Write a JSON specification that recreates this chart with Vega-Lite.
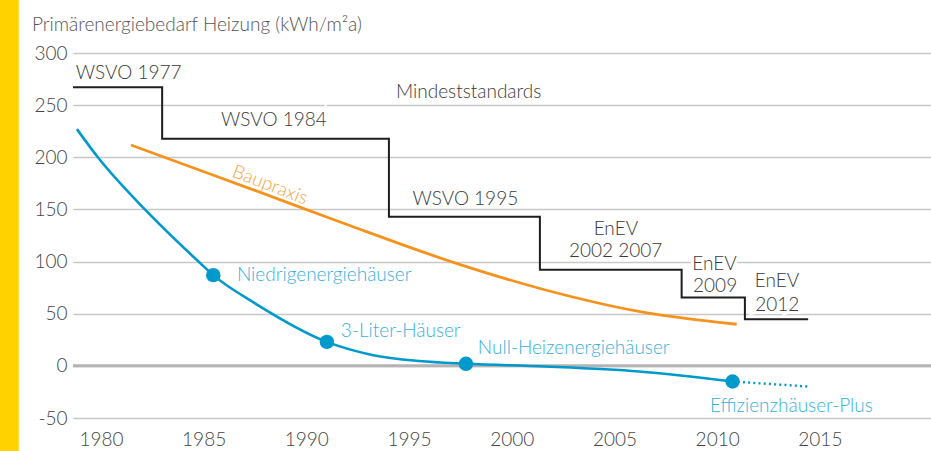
{
  "$schema": "https://vega.github.io/schema/vega-lite/v6.json",
  "width": 858,
  "height": 365,
  "autosize": {"type": "none"},
  "padding": {"left": 73, "top": 53, "right": 0, "bottom": 33},
  "background": "white",
  "title": {
    "text": "Primärenergiebedarf Heizung (kWh/m²a)",
    "anchor": "start",
    "frame": "group",
    "dx": -41,
    "offset": -50,
    "baseline": "alphabetic",
    "font": "Lato",
    "fontWeight": 300,
    "fontSize": 19,
    "color": "#555555"
  },
  "config": {
    "view": {"stroke": null},
    "font": "Lato",
    "text": {"font": "Lato", "fontWeight": 300}
  },
  "datasets": {
    "blue": [
      {"year": 1978.83, "value": 227},
      {"year": 1979.85, "value": 200},
      {"year": 1982.14, "value": 150},
      {"year": 1984.75, "value": 100},
      {"year": 1985.47, "value": 87},
      {"year": 1987.5, "value": 60},
      {"year": 1991.0, "value": 23},
      {"year": 1993.2, "value": 10.5},
      {"year": 1995.5, "value": 4.6},
      {"year": 1997.77, "value": 2},
      {"year": 2001.6, "value": -0.6},
      {"year": 2006.2, "value": -5.4},
      {"year": 2010.75, "value": -15}
    ],
    "blueDotted": [
      {"year": 2010.75, "value": -15},
      {"year": 2014.44, "value": -19.8}
    ],
    "bluePoints": [
      {"year": 1985.47, "value": 87},
      {"year": 1991.0, "value": 23},
      {"year": 1997.77, "value": 2},
      {"year": 2010.75, "value": -15}
    ],
    "orange": [
      {"year": 1981.46, "value": 211.8},
      {"year": 1983.85, "value": 194.5},
      {"year": 1987.25, "value": 170},
      {"year": 1991.64, "value": 138},
      {"year": 1997.3, "value": 98.3},
      {"year": 2001.6, "value": 73},
      {"year": 2006.24, "value": 52},
      {"year": 2010.95, "value": 39.9}
    ],
    "steps": [
      {"year": 1978.64, "value": 267.2},
      {"year": 1982.98, "value": 217.8},
      {"year": 1994.02, "value": 143},
      {"year": 2001.37, "value": 92.1},
      {"year": 2008.27, "value": 65.5},
      {"year": 2011.35, "value": 44.8},
      {"year": 2014.43, "value": 44.8}
    ],
    "blackLabels": [
      {"label": "WSVO 1977", "year": 1981.35, "value": 281.1},
      {"label": "Mindeststandards", "year": 1997.9, "value": 262.6},
      {"label": "WSVO 1984", "year": 1988.42, "value": 235.3},
      {"label": "WSVO 1995", "year": 1997.74, "value": 159.9},
      {"label": "EnEV", "year": 2005.07, "value": 131.2},
      {"label": "2002 2007", "year": 2005.06, "value": 110.4},
      {"label": "EnEV", "year": 2009.87, "value": 97.6},
      {"label": "2009", "year": 2009.9, "value": 76.8},
      {"label": "EnEV", "year": 2012.91, "value": 80.9},
      {"label": "2012", "year": 2012.93, "value": 58.5}
    ],
    "blueLabels": [
      {"label": "Niedrigenergiehäuser", "year": 1986.62, "value": 87.3},
      {"label": "3-Liter-Häuser", "year": 1991.68, "value": 33.9},
      {"label": "Null-Heizenergiehäuser", "year": 1998.35, "value": 17.3},
      {"label": "Effizienzhäuser-Plus", "year": 2009.65, "value": -38.4}
    ],
    "orangeLabels": [
      {"label": "Baupraxis", "year": 1988.23, "value": 173.6}
    ]
  },
  "layer": [
    {
      "data": {"values": [{}]},
      "mark": {"type": "rect", "color": "#FFD200"},
      "encoding": {
        "x": {"datum": 1975.08, "type": "quantitative", "scale": {"domain": [1978.64, 2020.41]}, "title": null,
          "axis": {"values": [1980, 1985, 1990, 1995, 2000, 2005, 2010, 2015], "format": "d", "grid": false, "ticks": false, "domain": false, "labelPadding": 12, "labelFontSize": 19, "labelColor": "#444444", "labelFont": "Lato", "labelFontWeight": 300, "labelBaseline": "top", "title": null}},
        "x2": {"datum": 1976.0},
        "y": {"datum": 350.85, "type": "quantitative", "scale": {"domain": [-50, 300]}, "title": null,
          "axis": {"values": [-50, 0, 50, 100, 150, 200, 250, 300], "labelExpr": "'' + datum.value", "grid": true, "gridColor": "#c8c8c8", "gridWidth": 1.5, "ticks": false, "domain": false, "labelPadding": 6, "labelFontSize": 19, "labelColor": "#444444", "labelFont": "Lato", "labelFontWeight": 300, "title": null}},
        "y2": {"datum": -81.6}
      }
    },
    {
      "data": {"values": [{}]},
      "mark": {"type": "rule", "color": "#b3b3b3", "strokeWidth": 3},
      "encoding": {"y": {"datum": 0, "type": "quantitative", "scale": {"domain": [-50, 300]}, "title": null}}
    },
    {
      "data": {"name": "blackLabels"},
      "mark": {"type": "text", "fontSize": 19, "align": "center", "baseline": "middle", "stroke": "white", "strokeWidth": 6, "color": "white"},
      "encoding": {
        "x": {"field": "year", "type": "quantitative", "scale": {"domain": [1978.64, 2020.41]}, "title": null},
        "y": {"field": "value", "type": "quantitative", "scale": {"domain": [-50, 300]}, "title": null},
        "text": {"field": "label"}
      }
    },
    {
      "data": {"name": "orange"},
      "mark": {"type": "line", "color": "#f6931e", "strokeWidth": 2.8, "interpolate": "monotone"},
      "encoding": {
        "x": {"field": "year", "type": "quantitative", "scale": {"domain": [1978.64, 2020.41]}, "title": null},
        "y": {"field": "value", "type": "quantitative", "scale": {"domain": [-50, 300]}, "title": null}
      }
    },
    {
      "data": {"name": "steps"},
      "mark": {"type": "line", "color": "#1e1e1e", "strokeWidth": 2, "interpolate": "step-after"},
      "encoding": {
        "x": {"field": "year", "type": "quantitative", "scale": {"domain": [1978.64, 2020.41]}, "title": null},
        "y": {"field": "value", "type": "quantitative", "scale": {"domain": [-50, 300]}, "title": null}
      }
    },
    {
      "data": {"name": "blue"},
      "mark": {"type": "line", "color": "#0099cc", "strokeWidth": 2.6, "interpolate": "monotone"},
      "encoding": {
        "x": {"field": "year", "type": "quantitative", "scale": {"domain": [1978.64, 2020.41]}, "title": null},
        "y": {"field": "value", "type": "quantitative", "scale": {"domain": [-50, 300]}, "title": null}
      }
    },
    {
      "data": {"name": "blueDotted"},
      "mark": {"type": "line", "color": "#0099cc", "strokeWidth": 2.4, "strokeDash": [2, 3.2]},
      "encoding": {
        "x": {"field": "year", "type": "quantitative", "scale": {"domain": [1978.64, 2020.41]}, "title": null},
        "y": {"field": "value", "type": "quantitative", "scale": {"domain": [-50, 300]}, "title": null}
      }
    },
    {
      "data": {"name": "bluePoints"},
      "mark": {"type": "circle", "color": "#0099cc", "size": 210, "opacity": 1},
      "encoding": {
        "x": {"field": "year", "type": "quantitative", "scale": {"domain": [1978.64, 2020.41]}, "title": null},
        "y": {"field": "value", "type": "quantitative", "scale": {"domain": [-50, 300]}, "title": null}
      }
    },
    {
      "data": {"name": "blackLabels"},
      "mark": {"type": "text", "fontSize": 19, "align": "center", "baseline": "middle", "color": "#3a3a3a"},
      "encoding": {
        "x": {"field": "year", "type": "quantitative", "scale": {"domain": [1978.64, 2020.41]}, "title": null},
        "y": {"field": "value", "type": "quantitative", "scale": {"domain": [-50, 300]}, "title": null},
        "text": {"field": "label"}
      }
    },
    {
      "data": {"name": "blueLabels"},
      "mark": {"type": "text", "fontSize": 19, "align": "left", "baseline": "middle", "color": "#38b0dc"},
      "encoding": {
        "x": {"field": "year", "type": "quantitative", "scale": {"domain": [1978.64, 2020.41]}, "title": null},
        "y": {"field": "value", "type": "quantitative", "scale": {"domain": [-50, 300]}, "title": null},
        "text": {"field": "label"}
      }
    },
    {
      "data": {"name": "orangeLabels"},
      "mark": {"type": "text", "fontSize": 19, "align": "center", "baseline": "middle", "angle": 21, "color": "#f6a540"},
      "encoding": {
        "x": {"field": "year", "type": "quantitative", "scale": {"domain": [1978.64, 2020.41]}, "title": null},
        "y": {"field": "value", "type": "quantitative", "scale": {"domain": [-50, 300]}, "title": null},
        "text": {"field": "label"}
      }
    }
  ]
}
